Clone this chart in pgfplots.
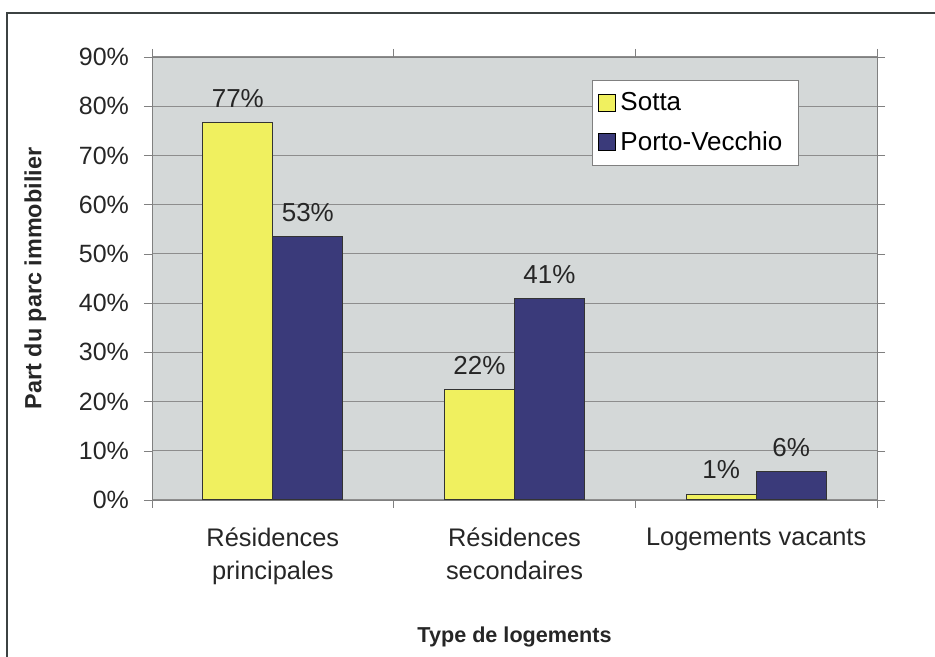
\documentclass[border=0pt]{standalone}
\usepackage{pgfplots}
\pgfplotsset{compat=1.18}
\usepackage{fontspec}
\setmainfont{Liberation Sans}
\definecolor{sotta}{RGB}{240,240,95}
\definecolor{porto}{RGB}{58,58,122}
\definecolor{bggray}{RGB}{212,216,216}
\definecolor{gridgray}{RGB}{128,128,128}
\definecolor{framec}{RGB}{60,66,66}
\begin{document}
\begin{tikzpicture}
\useasboundingbox (0,0) rectangle (467.5pt,328.5pt);
\draw[framec, line width=1.2pt] (3.5pt,0) -- (3.5pt,322pt) -- (467.5pt,322pt);
\begin{axis}[
  at={(76pt,78.5pt)}, anchor=south west,
  scale only axis, width=362.5pt, height=221.5pt,
  clip=false,
  font=\fontsize{12.7}{16.5}\selectfont,
  axis background/.style={fill=bggray},
  axis line style={gridgray},
  xmin=-0.5, xmax=2.5, ymin=0, ymax=90,
  ybar=0pt, bar width=35pt,
  xtick={0,1,2},
  xticklabels={{Résidences\\principales},{Résidences\\secondaires},{Logements vacants}},
  xticklabel style={align=center, yshift=-6.5pt, text=black!85},
  minor xtick={-0.5,0.5,1.5,2.5},
  major x tick style={draw=none},
  minor tick length=4pt,
  minor x tick style={gridgray},
  ytick={0,10,...,90},
  yticklabels={0\%,10\%,20\%,30\%,40\%,50\%,60\%,70\%,80\%,90\%},
  yticklabel style={xshift=-4pt, text=black!85, font=\fontsize{12.5}{15}\selectfont},
  major tick length=4pt,
  tick align=outside,
  y tick style={gridgray},
  ymajorgrids, grid style={gridgray!90, line width=0.6pt},
  xlabel={\textbf{Type de logements}},
  xlabel style={at={(axis description cs:0.5,-0.31)}, anchor=center, font=\fontsize{10.8}{13}\selectfont, text=black!85},
  ylabel={\textbf{Part du parc immobilier}},
  ylabel style={at={(axis description cs:-0.161,0.5)}, anchor=center, font=\fontsize{11.7}{14}\selectfont, text=black!85},
  nodes near coords,
  point meta=explicit symbolic,
  nodes near coords style={font=\fontsize{13}{15}\selectfont, text=black!85, yshift=4pt},
  legend style={at={(axis description cs:0.607,0.948)}, anchor=north west,
    draw=gridgray, fill=white, font=\fontsize{13}{16}\selectfont,
    row sep=5pt, inner xsep=3pt, inner ysep=4pt, text width=84pt},
  legend image code/.code={\draw[#1, draw=black, line width=0.5pt] (0pt,-4pt) rectangle (8.5pt,4.5pt);},
  legend cell align=left,
]
\addplot[fill=sotta, draw=black!80, line width=0.5pt] coordinates {(0,76.7) [77\%] (1,22.4) [22\%] (2,1.2) [1\%]};
\addplot[fill=porto, draw=black!80, line width=0.5pt] coordinates {(0,53.5) [53\%] (1,40.9) [41\%] (2,5.7) [6\%]};
\legend{Sotta, Porto-Vecchio}
\end{axis}
\end{tikzpicture}
\end{document}
